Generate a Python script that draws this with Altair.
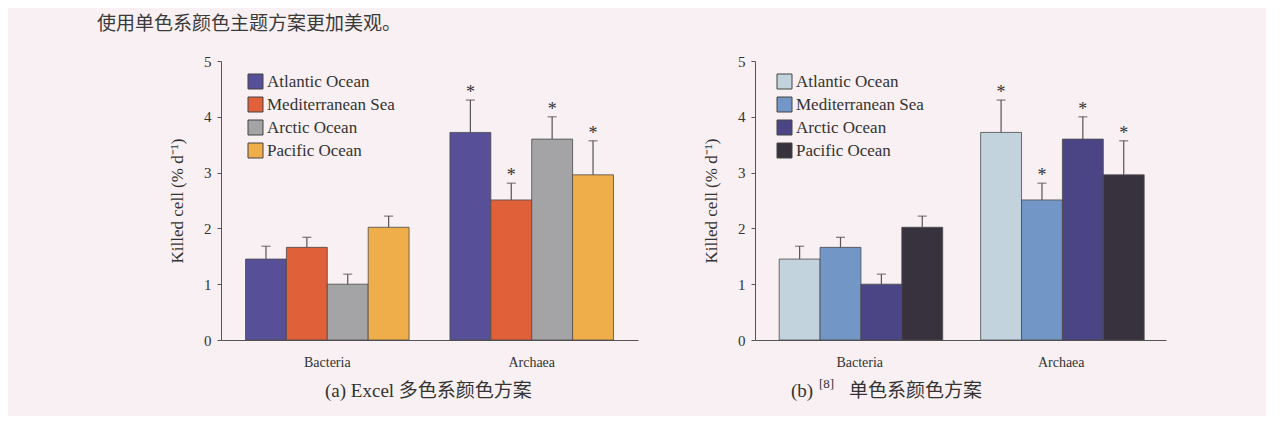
import altair as alt
import pandas as pd

groups = ["Bacteria", "Archaea"]
regions = ["Atlantic Ocean", "Mediterranean Sea", "Arctic Ocean", "Pacific Ocean"]
bacteria_vals = [1.45, 1.66, 1.00, 2.02]
bacteria_upper = [1.68, 1.84, 1.18, 2.22]
archaea_vals = [3.72, 2.51, 3.60, 2.96]
archaea_upper = [4.30, 2.81, 4.00, 3.57]
bacteria_star = ["", "", "", ""]
archaea_star = ["*", "*", "*", "*"]

colors_a = ["#574f98", "#e0603a", "#a4a3a6", "#f0ae4a"]
colors_b = ["#c3d3dd", "#7296c6", "#4b4485", "#38323f"]

top_text = "使用单色系颜色主题方案更加美观。"
caption_a = "(a) Excel 多色系颜色方案"
caption_b_pre = "(b)"
caption_b_ref = "[8]"
caption_b_post = "单色系颜色方案"
y_title = "Killed cell (% d⁻¹)"

rows = []
for i, r in enumerate(regions):
    rows.append({"Group": "Bacteria", "Region": r, "Value": bacteria_vals[i],
                 "Upper": bacteria_upper[i], "Star": bacteria_star[i]})
for i, r in enumerate(regions):
    rows.append({"Group": "Archaea", "Region": r, "Value": archaea_vals[i],
                 "Upper": archaea_upper[i], "Star": archaea_star[i]})
df = pd.DataFrame(rows)

SERIF = "Liberation Serif"
CJK = "Liberation Serif, Noto Sans CJK SC"
AX = "#555555"


def panel(colors, W, H, lx, ly, texts):
    base = alt.Chart(df).encode(
        x=alt.X("Group:N", sort=groups, title=None,
                scale=alt.Scale(paddingInner=0.2, paddingOuter=0.12),
                axis=alt.Axis(labelAngle=0, ticks=False, labelPadding=15,
                              labelFont=SERIF, labelFontSize=14, labelColor="#333",
                              domainColor=AX, domainWidth=1)),
        xOffset=alt.XOffset("Region:N", sort=regions,
                            scale=alt.Scale(paddingInner=0, paddingOuter=0)),
    )
    bars = base.mark_bar(stroke="#4a4a4a", strokeWidth=0.8).encode(
        y=alt.Y("Value:Q", title=y_title,
                scale=alt.Scale(domain=[0, 5], nice=False),
                axis=alt.Axis(values=[0, 1, 2, 3, 4, 5], grid=False, tickSize=4,
                              tickColor=AX, domainColor=AX, labelPadding=6,
                              labelFont=SERIF, labelFontSize=15, labelColor="#333",
                              titleFont=SERIF, titleFontSize=17, titleFontWeight="normal",
                              titleColor="#333", titlePadding=17)),
        color=alt.Color("Region:N", sort=regions,
                        scale=alt.Scale(domain=regions, range=colors),
                        legend=alt.Legend(orient="none", legendX=lx, legendY=ly, title=None,
                                          symbolType="square", symbolSize=225,
                                          symbolStrokeColor="#444", symbolStrokeWidth=1,
                                          symbolOpacity=1, labelFont=SERIF,
                                          labelFontSize=17, labelColor="#333",
                                          rowPadding=4, labelOffset=3)),
    )
    rule = base.mark_rule(color=AX, strokeWidth=1.2).encode(
        y="Value:Q", y2="Upper:Q")
    cap = base.mark_tick(color=AX, size=9, thickness=1.3).encode(y="Upper:Q")
    star = base.mark_text(font=SERIF, fontSize=18, color="#333", dy=-2,
                          baseline="alphabetic").encode(y="Upper:Q", text="Star:N")
    layers = [bars, rule, cap, star]
    for txt, px, py, size, dy, font, color in texts:
        layers.append(
            alt.Chart(pd.DataFrame({"t": [txt]})).mark_text(
                font=font, fontSize=size, color=color, align="left",
                baseline="middle", dy=dy
            ).encode(text="t:N", x=alt.value(px), y=alt.value(py))
        )
    return alt.layer(*layers).properties(width=W, height=H)


H = 279
pa = panel(colors_a, 417, H, 26, 12, [
    (top_text, -124, -37, 19, 0, "Noto Sans CJK SC", "#3a3a3a"),
    (caption_a, 104, H + 51, 19, 0, CJK, "#333"),
])
pb = panel(colors_b, 411, H, 21, 12, [
    (caption_b_pre, 36, H + 51, 19, 0, CJK, "#333"),
    (caption_b_ref, 64, H + 51, 13, -7, CJK, "#333"),
    (caption_b_post, 94, H + 51, 19, 0, CJK, "#333"),
])

chart = alt.hconcat(pa, pb, spacing=117, bounds="flush").resolve_scale(
    color="independent"
).resolve_legend(color="independent").properties(
    padding={"left": 89, "top": 7, "right": 100, "bottom": 15},
    background="#f8f0f2",
).configure_view(stroke=None)

chart.save("out.html", embed_options={"renderer": "svg", "actions": False})
